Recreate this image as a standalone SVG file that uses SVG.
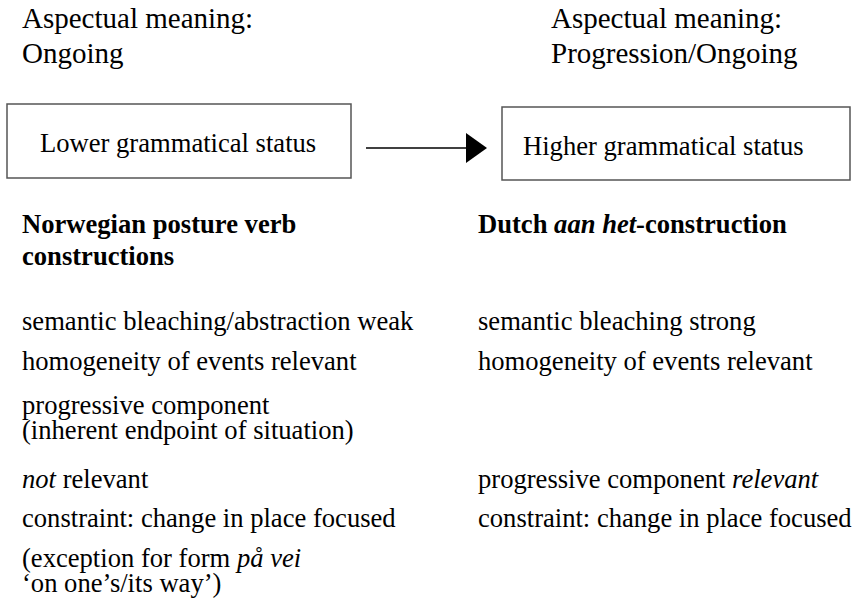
<svg xmlns="http://www.w3.org/2000/svg" width="856" height="612" viewBox="0 0 856 612">
<defs>
<style>
text{font-family:"Liberation Serif","Times New Roman",serif;fill:#000;}
.top{font-size:29px;}
.body{font-size:26.6px;}
.bold{font-weight:bold;}
.it{font-style:italic;}
.box{fill:#fff;stroke:#555;stroke-width:1.5;}
.conn{stroke:#000;stroke-width:1.5;fill:none;}
</style>
<marker id="arrowhead" markerUnits="userSpaceOnUse" markerWidth="22" markerHeight="30" refX="0" refY="15" orient="auto">
<path d="M0,0 L21,15 L0,30 Z" fill="#000"/>
</marker>
</defs>
<rect width="856" height="612" fill="#fff"/>

<g id="aspect-left">
<text class="top" x="22" y="28">Aspectual meaning:</text>
<text class="top" x="22" y="63">Ongoing</text>
</g>
<g id="aspect-right">
<text class="top" x="551" y="28">Aspectual meaning:</text>
<text class="top" x="551" y="63">Progression/Ongoing</text>
</g>

<g id="box-lower">
<rect class="box" x="7" y="104" width="344" height="74"/>
<text class="body" x="40" y="152">Lower grammatical status</text>
</g>
<g id="box-higher">
<rect class="box" x="502" y="107" width="348" height="73"/>
<text class="body" x="523" y="155">Higher grammatical status</text>
</g>

<g id="connectors">
<line class="conn" x1="366" y1="148" x2="466" y2="148" marker-end="url(#arrowhead)"/>
</g>

<g id="heading-left">
<text class="body bold" x="22" y="233">Norwegian posture verb</text>
<text class="body bold" x="22" y="265">constructions</text>
</g>
<g id="heading-right">
<text class="body bold" x="478" y="233">Dutch <tspan class="it">aan het</tspan>-construction</text>
</g>

<g id="list-left">
<text class="body" x="22" y="330">semantic bleaching/abstraction weak</text>
<text class="body" x="22" y="370">homogeneity of events relevant</text>
<text class="body" x="22" y="414">progressive component</text>
<text class="body" x="22" y="439">(inherent endpoint of situation)</text>
<text class="body" x="22" y="488"><tspan class="it">not</tspan> relevant</text>
<text class="body" x="22" y="527">constraint: change in place focused</text>
<text class="body" x="22" y="567">(exception for form <tspan class="it">på vei</tspan></text>
<text class="body" x="22" y="592">‘on one’s/its way’)</text>
</g>
<g id="list-right">
<text class="body" x="478" y="330">semantic bleaching strong</text>
<text class="body" x="478" y="370">homogeneity of events relevant</text>
<text class="body" x="478" y="488">progressive component <tspan class="it">relevant</tspan></text>
<text class="body" x="478" y="527">constraint: change in place focused</text>
</g>
</svg>
